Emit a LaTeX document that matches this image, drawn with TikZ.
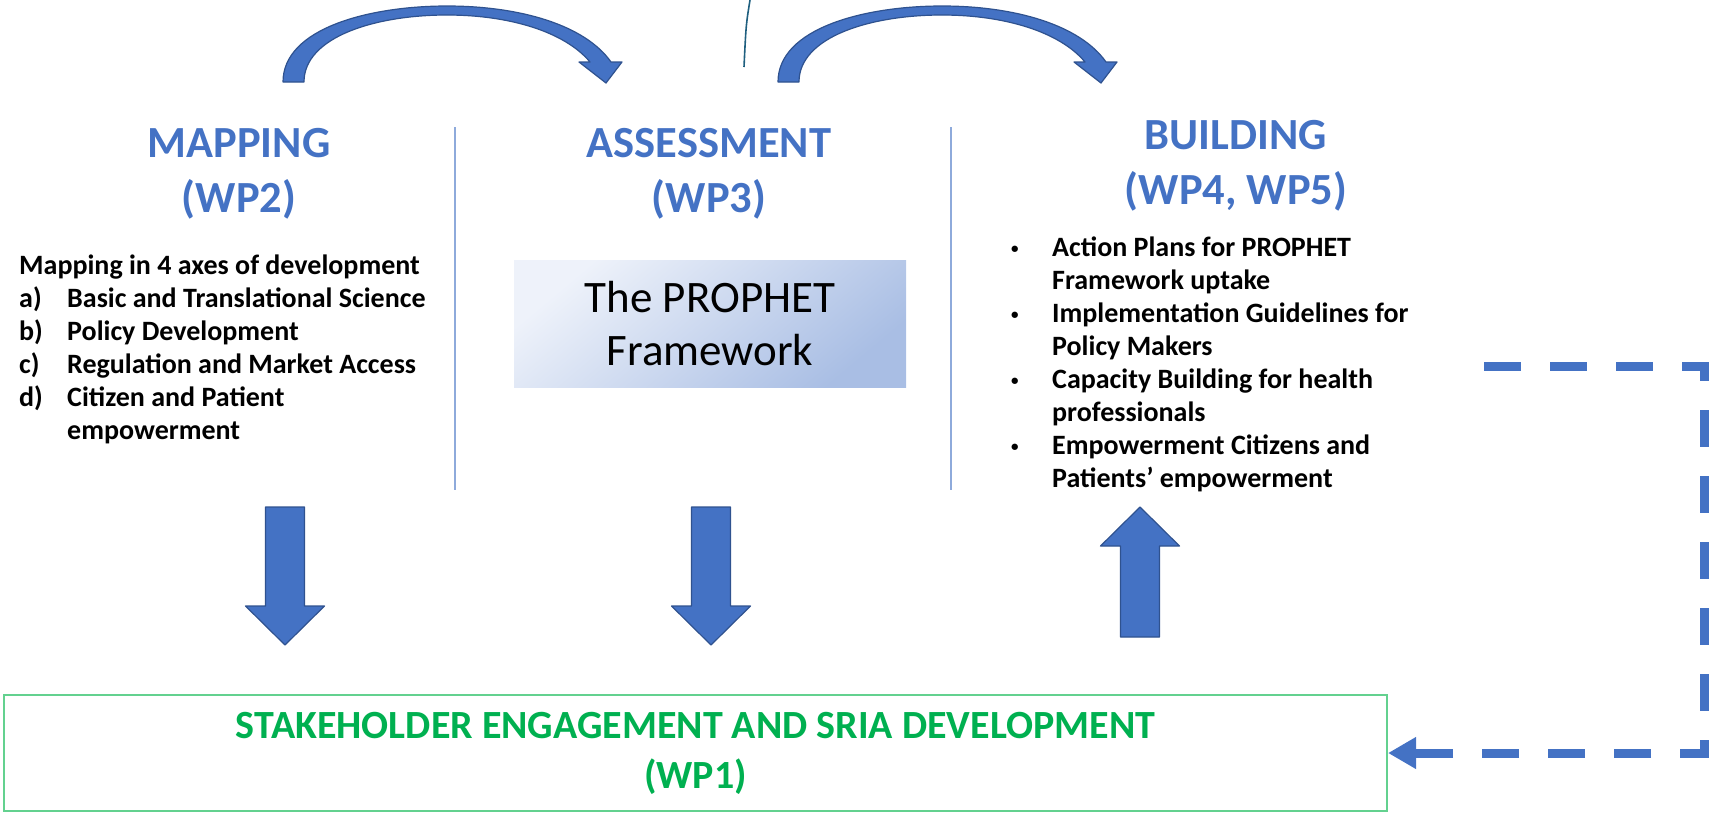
\documentclass[tikz,border=0pt]{standalone}
\usepackage{fontspec}
\setmainfont{Carlito}
\usetikzlibrary{arrows.meta}
\definecolor{wpblue}{HTML}{4472C4}
\definecolor{wpblueedge}{HTML}{2F528F}
\definecolor{wpgreen}{HTML}{00B050}
\definecolor{wpgreenedge}{HTML}{63D18F}
\definecolor{wpteal}{HTML}{1F5F7F}
\definecolor{wpdivider}{HTML}{8EAADB}
\definecolor{boxlight}{HTML}{EEF2FA}
\definecolor{boxdark}{HTML}{A9BEE4}
\newcommand{\wpbullet}{\makebox[45pt][l]{\hspace*{4pt}\raisebox{3pt}{\fontsize{15}{15}\selectfont•}}}
\begin{document}
\begin{tikzpicture}[x=1pt,y=-1pt,
    wphead/.style={font=\fontsize{44.5}{55}\selectfont\bfseries, text=wpblue, align=center, inner sep=0pt, anchor=base},
    wplist/.style={font=\fontsize{28}{33}\selectfont\bfseries, align=left, inner sep=0pt, anchor=base west},
    bigarrow/.style={fill=wpblue, draw=wpblueedge, line width=1.2pt, line join=round},
    divider/.style={draw=wpdivider, line width=2pt}]
    \useasboundingbox (0,0) rectangle (1716,815);
    % curved arrows on top
    \foreach \dx in {0,495} {
        \filldraw[bigarrow, xshift=\dx pt]
            (283,82) .. controls (283,28) and (370,6) .. (447,6)
            .. controls (520,6) and (585,25) .. (611,62)
            -- (622,62) -- (606,83) -- (579,62) -- (590,62)
            .. controls (565,32) and (510,15) .. (447,15)
            .. controls (375,15) and (304,37) .. (304,82) -- cycle;
    }
    \draw[wpteal, line width=1.6pt] (750,0) .. controls (746,25) .. (744,67);
    % the three columns (anchor base = last line)
    \node[wphead] (mapping) at (239,212) {MAPPING\\(WP2)};
    \node[wphead] (assessment) at (709,212) {ASSESSMENT\\(WP3)};
    \node[wphead] (building) at (1236,204) {BUILDING\\(WP4, WP5)};
    \draw[divider] (455,127) -- (455,490);
    \draw[divider] (951,127) -- (951,490);
    \node[wplist] (axes) at (19,439) {Mapping in 4 axes of development\\
        \makebox[48pt][l]{a)}Basic and Translational Science\\
        \makebox[48pt][l]{b)}Policy Development\\
        \makebox[48pt][l]{c)}Regulation and Market Access\\
        \makebox[48pt][l]{d)}Citizen and Patient\\
        \hspace*{48pt}empowerment};
    \node[font=\fontsize{45}{53}\selectfont, align=center, minimum width=392pt, minimum height=127pt,
        top color=boxlight, bottom color=boxdark, shading angle=40] (framework) at (710,323.5)
        {The PROPHET\\Framework};
    \node[wplist] (outputs) at (1007,487) {\wpbullet Action Plans for PROPHET\\
        \hspace*{45pt}Framework uptake\\
        \wpbullet Implementation Guidelines for\\
        \hspace*{45pt}Policy Makers\\
        \wpbullet Capacity Building for health\\
        \hspace*{45pt}professionals\\
        \wpbullet Empowerment Citizens and\\
        \hspace*{45pt}Patients’ empowerment};
    % block arrows
    \foreach \cx in {285,711} {
        \filldraw[bigarrow] ({\cx-19.5},507) -- ({\cx+19.5},507) -- ({\cx+19.5},606) -- ({\cx+39.5},606)
            -- (\cx,645) -- ({\cx-39.5},606) -- ({\cx-19.5},606) -- cycle;
    }
    \filldraw[bigarrow] (1120.5,637) -- (1159.5,637) -- (1159.5,546) -- (1179.5,546)
        -- (1140,507) -- (1100.5,546) -- (1120.5,546) -- cycle;
    % stakeholder box and feedback loop
    \node[draw=wpgreenedge, line width=2pt, minimum width=1383pt, minimum height=116pt,
        text=wpgreen, align=center, font=\fontsize{40}{50}\selectfont\bfseries] (sria) at (695.5,753)
        {STAKEHOLDER ENGAGEMENT AND SRIA DEVELOPMENT\\(WP1)};
    \coordinate (loopstart) at (1484,366);
    \coordinate (loopturn) at (1704,366);
    \draw[wpblue, line width=9pt, dash pattern=on 37pt off 29pt, -{Triangle[length=28pt,width=30pt]}]
        (loopstart) -- (loopturn) |- (sria.east);
\end{tikzpicture}
\end{document}
